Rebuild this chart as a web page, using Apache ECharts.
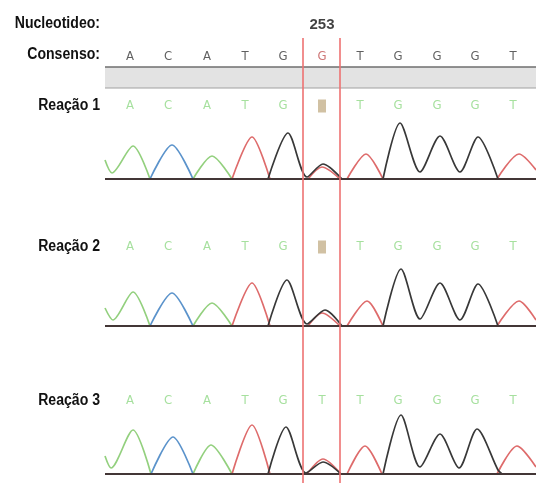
<!DOCTYPE html>
<html><head><meta charset="utf-8">
<style>html,body{margin:0;padding:0;background:#fff}#c{width:536px;height:483px}</style>
<script src="https://cdn.jsdelivr.net/npm/echarts@6/dist/echarts.min.js"></script>
</head><body><div id="c"></div>
<script>
// ---- data ----
const nucleotideNumber = '253';
const basePositions = [25, 63, 102, 140, 178, 217, 255, 293, 332, 370, 408];
const consensusCalls = ['A','C','A','T','G','G','T','G','G','G','T'];
const callsReacao1 = ['A','C','A','T','G','N','T','G','G','G','T'];
const callsReacao2 = ['A','C','A','T','G','N','T','G','G','G','T'];
const callsReacao3 = ['A','C','A','T','G','T','T','G','G','G','T'];
const highlightIndex = 5;
const highlightBounds = [198, 235];
const rowLabels = ['Reação 1', 'Reação 2', 'Reação 3'];

// traces: [scan position, intensity]; null separates peaks that rest on the baseline
const r1A = [[0,19],[7,6],[28,33],[45,0], null, [88,0],[107,23],[127,0]];
const r1C = [[45,0],[67,34],[88,0]];
const r1T = [[127,0],[147,42],[165,0], null, [203,0],[217,12],[235,0], null, [242,0],[261,25],[278,0], null, [392,0],[414,25],[431,9]];
const r1G = [[163,0],[183,46],[202,2],[218,15],[237,0], null, [278,0],[295,56],[315,7],[335,43],[355,7],[373,42],[393,0]];

const r2A = [[0,18],[8,6],[28,34],[45,0], null, [88,0],[107,23],[127,0]];
const r2C = [[45,0],[67,33],[88,0]];
const r2T = [[127,0],[147,43],[165,0], null, [203,0],[217,13],[235,0], null, [242,0],[262,25],[278,0], null, [392,0],[414,25],[431,6]];
const r2G = [[163,0],[182,46],[202,2],[220,16],[237,0], null, [278,0],[296,57],[315,7],[335,43],[355,6],[373,42],[393,0]];

const r3A = [[0,18],[6,6],[28,44],[46,0], null, [88,0],[106,29],[127,0]];
const r3C = [[46,0],[68,37],[88,0]];
const r3T = [[127,0],[147,49],[165,0], null, [202,0],[218,15],[236,0], null, [242,0],[260,28],[277,0], null, [392,0],[412,28],[431,7]];
const r3G = [[163,0],[181,47],[201,1],[218,12],[236,0], null, [278,0],[296,59],[315,7],[335,40],[354,6],[372,45],[393,4],[397,0]];

// ---- layout / style ----
const FONT = '"Liberation Sans","Arial",sans-serif';
const LETTER_FONT = '"DejaVu Sans Condensed","Liberation Sans",sans-serif';
const traceColors = {A:'#93d07e', C:'#5b93cb', T:'#de6b6b', G:'#383838'};
const rowsLayout = [{letterY:106, baseY:179}, {letterY:247, baseY:326}, {letterY:401, baseY:474}];
const rowsTraces = [
  {A:r1A, C:r1C, T:r1T, G:r1G},
  {A:r2A, C:r2C, T:r2T, G:r2G},
  {A:r3A, C:r3C, T:r3T, G:r3G}
];
const rowsCalls = [callsReacao1, callsReacao2, callsReacao3];
const GL = 105, GW = 431;

const grids = [], xAxes = [], yAxes = [], series = [];
function addGrid(top, height) {
  grids.push({left: GL, width: GW, top: top, height: height});
  const i = grids.length - 1;
  xAxes.push({type:'value', gridIndex:i, min:0, max:GW, show:false});
  yAxes.push({type:'value', gridIndex:i, min:0, max:height, show:false});
  return i;
}

rowsLayout.forEach((L, r) => {
  const h = L.baseY - L.letterY;
  const gi = addGrid(L.letterY, h);
  ['A','C','T','G'].forEach(b => {
    const s = {
      type:'line', xAxisIndex:gi, yAxisIndex:gi, data: rowsTraces[r][b],
      smooth:0.28, connectNulls:false, symbol:'none', clip:false, silent:true,
      lineStyle:{color:traceColors[b], width:1.7}, z:3
    };
    if (b === 'G') {
      s.markLine = {silent:true, symbol:['none','none'], animation:false, label:{show:false},
        lineStyle:{color:'#433636', width:2, type:'solid'}, data:[{yAxis:0}]};
    }
    series.push(s);
  });
  const calls = rowsCalls[r];
  series.push({
    type:'scatter', xAxisIndex:gi, yAxisIndex:gi, symbolSize:0, silent:true,
    data: basePositions.map((p,i)=>[p, h, calls[i]]).filter(d=>d[2] !== 'N'),
    label:{show:true, position:'inside', formatter:p=>p.data[2], color:'#90d886', fontSize:13, fontFamily:LETTER_FONT}
  });
  series.push({
    type:'scatter', xAxisIndex:gi, yAxisIndex:gi, symbol:'rect', symbolSize:[8,13], silent:true,
    data: basePositions.map((p,i)=>[p, h, calls[i]]).filter(d=>d[2] === 'N'),
    itemStyle:{color:'#c6b28c'}
  });
});

// consensus row
const cgi = addGrid(57, 31);
series.push({
  type:'scatter', xAxisIndex:cgi, yAxisIndex:cgi, symbolSize:0, silent:true,
  data: basePositions.map((p,i)=>({value:[p, 31, consensusCalls[i]],
    label: i === highlightIndex ? {color:'#c25454'} : {}})),
  label:{show:true, position:'inside', formatter:p=>p.data.value[2], color:'#383838', fontSize:13, fontFamily:LETTER_FONT}
});

// overlay: highlight lines + nucleotide number
const ogi = grids.length;
grids.push({left:GL, width:GW, top:38, bottom:0});
xAxes.push({type:'value', gridIndex:ogi, min:0, max:GW, show:false});
yAxes.push({type:'value', gridIndex:ogi, min:0, max:1, show:false});
series.push({
  type:'scatter', xAxisIndex:ogi, yAxisIndex:ogi, symbolSize:0, silent:true, z:5,
  data:[[basePositions[highlightIndex], 1, nucleotideNumber]],
  label:{show:true, position:'top', distance:6, formatter:p=>p.data[2], color:'#111', fontSize:15, fontWeight:'bold', fontFamily:FONT},
  markLine:{silent:true, symbol:['none','none'], animation:false,
    label:{show:false}, lineStyle:{color:'#ee7272', width:1.6, type:'solid'},
    data: highlightBounds.map(x=>({xAxis:x}))}
});

const labelFont = 'bold 16px ' + FONT;
function label(text, y) {
  return {type:'text', x:100, y:y, scaleX:0.88, style:{text:text, align:'right', verticalAlign:'middle', font:labelFont, fill:'#111'}};
}
const graphics = [
  {type:'rect', shape:{x:GL, y:67, width:GW, height:21}, style:{fill:'#e3e3e3'}, z:0},
  {type:'line', shape:{x1:GL, y1:67, x2:GL+GW, y2:67}, style:{stroke:'#6e6e6e', lineWidth:1.6}, z:0},
  {type:'line', shape:{x1:GL, y1:88, x2:GL+GW, y2:88}, style:{stroke:'#a0a0a0', lineWidth:1}, z:0},
  label('Nucleotideo:', 24),
  label('Consenso:', 55)
];
rowLabels.forEach((t, r) => graphics.push(label(t, rowsLayout[r].letterY)));

const chart = echarts.init(document.getElementById('c'), null, {renderer:'canvas'});
chart.setOption({
  animation:false,
  backgroundColor:'#fff',
  grid:grids, xAxis:xAxes, yAxis:yAxes, series:series, graphic:graphics
});
</script></body></html>
